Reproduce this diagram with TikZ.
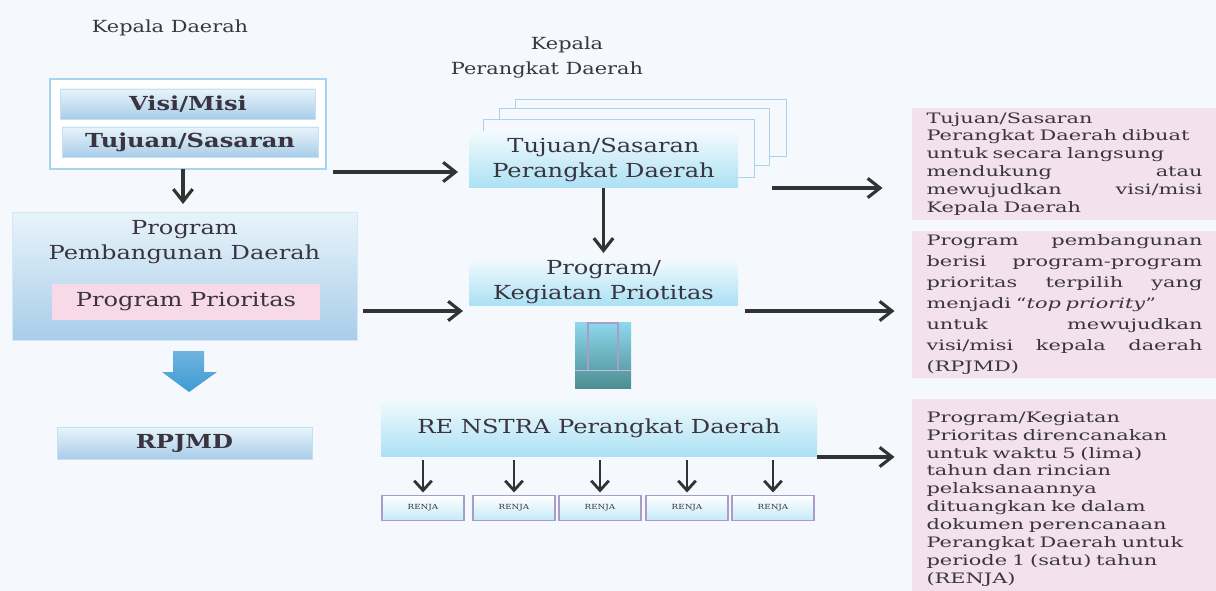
\documentclass[tikz,border=0pt]{standalone}
\usepackage{fontspec}
\setmainfont{DejaVu Serif}[FakeStretch=1.25]
\newfontfamily\notefont{DejaVu Serif}[FakeStretch=1.45]
\usetikzlibrary{arrows.meta}
\newdimen\pxu \pxu=0.02cm
\definecolor{bgcol}{HTML}{F5F9FD}
\definecolor{inkcol}{HTML}{3A3440}
\definecolor{arrcol}{HTML}{333333}
\definecolor{framecol}{HTML}{A8D4EE}
\definecolor{barT}{HTML}{E8F4FB}
\definecolor{barB}{HTML}{A9CDE9}
\definecolor{cyanT}{HTML}{F2FAFD}
\definecolor{cyanB}{HTML}{ABE1F4}
\definecolor{pinkcol}{HTML}{F3E1EE}
\definecolor{pinkbarcol}{HTML}{F7D9E7}
\definecolor{bluearr}{HTML}{3F9AD3}
\definecolor{pillarT}{HTML}{8ED8EE}
\definecolor{pillarB}{HTML}{4C8E90}
\definecolor{lilac}{HTML}{A89CCB}

\begin{document}
\begin{tikzpicture}[x=0.02cm,y=-0.02cm,inner sep=0pt,outer sep=0pt,text=inkcol,
hdr/.style={font=\fontsize{9.5}{11}\selectfont},
lbl/.style={font=\fontsize{11}{14}\selectfont},
bluebar/.style={rectangle,top color=barT,bottom color=barB,draw=framecol!70,line width=0.3pt,font=\fontsize{11}{14}\selectfont},
cyanbox/.style={rectangle,top color=cyanT,bottom color=cyanB,font=\fontsize{11}{14}\selectfont,align=center},
pinkbar/.style={rectangle,fill=pinkbarcol,font=\fontsize{11}{14}\selectfont},
notebox/.style={rectangle,fill=pinkcol,inner xsep=15\pxu,text width=276\pxu,align=left,font=\notefont\fontsize{8.2}{10.2}\selectfont},
renjabox/.style={rectangle,top color=white,bottom color=cyanB!70,draw=lilac,line width=0.6pt,minimum width=82\pxu,minimum height=25\pxu,font=\fontsize{4}{5}\selectfont},
stackline/.style={draw=framecol,fill=bgcol,line width=0.5pt},
arr/.style={draw=arrcol,line width=1.8pt,-{Straight Barb[length=7pt,width=11pt,line width=1.8pt]}},
smallarr/.style={draw=arrcol,line width=1.6pt,-{Straight Barb[length=5.5pt,width=10pt,line width=1.6pt]}}]
\useasboundingbox (0,0) rectangle (1216,591);
\fill[bgcol] (0,0) rectangle (1216,591);

% left column: Kepala Daerah
\draw (170,28) node[hdr] (kdh) {Kepala Daerah};
\draw (188,124) node[draw=framecol,fill=white,line width=0.8pt,minimum width=276\pxu,minimum height=90\pxu] (frame) {};
\draw (188,104) node[bluebar,minimum width=255\pxu,minimum height=30\pxu] (visi) {\bfseries Visi/Misi};
\draw (190,142) node[bluebar,minimum width=256\pxu,minimum height=30\pxu] (tujuan) {\bfseries Tujuan/Sasaran};
\draw (184.5,276) node[bluebar,draw=framecol!50,minimum width=345\pxu,minimum height=128\pxu] (pbd) {};
\draw (184.5,242) node[lbl,align=center] (pbdtxt) {Program\\Pembangunan Daerah};
\draw (186,302) node[pinkbar,minimum width=268\pxu,minimum height=36\pxu] (prio) {Program Prioritas};
\draw (184.5,443) node[bluebar,minimum width=255\pxu,minimum height=32\pxu] (rpjmd) {\bfseries RPJMD};
\draw[arr,shorten >=8\pxu] ([xshift=-5\pxu]frame.south) -- ([xshift=-5\pxu]frame.south |- pbd.north);
% block arrow down to RPJMD
\shade[top color=bluearr!75,bottom color=bluearr] (173,351) -- (204,351) -- (204,372) -- (217,372)
  -- (189,392) -- (162,372) -- (173,372) -- cycle;

% middle column: Kepala Perangkat Daerah
\draw (567,45) node[hdr] (kpd1) {Kepala};
\draw (547,70) node[hdr] (kpd2) {Perangkat Daerah};
\draw[stackline] (515,99) rectangle (786,156);
\draw[stackline] (499,108) rectangle (769,165);
\draw[stackline] (483,119) rectangle (754,177);
\draw (603.5,160) node[cyanbox,minimum width=269\pxu,minimum height=56\pxu] (tps) {Tujuan/Sasaran\\Perangkat Daerah};
\draw (603.5,282) node[cyanbox,minimum width=269\pxu,minimum height=46\pxu] (pk) {Program/\\Kegiatan Priotitas};
\draw[arr,shorten >=6\pxu] (tps.south) -- (pk.north);
\shade[top color=pillarT,bottom color=pillarB] (575,322) rectangle (631,388);
\draw[lilac,line width=0.6pt] (588,371) -- (588,323) -- (618,323) -- (618,371);
\draw[lilac!70,line width=0.4pt] (575,370) -- (631,370);
\draw (599,428) node[cyanbox,minimum width=436\pxu,minimum height=56\pxu] (renstra) {RE NSTRA Perangkat Daerah};
\foreach \xx [count=\i] in {423,514,600,687,773}
  \draw (\xx,508) node[renjabox] (renja\i) {RENJA};
\foreach \i in {1,...,5}
  \draw[smallarr,shorten <=4\pxu,shorten >=3\pxu] (renja\i.north |- renstra.south) -- (renja\i.north);

\coordinate (l1s) at (333,172);
\coordinate (l2s) at (363,311);
\draw[arr,shorten >=11\pxu] (l1s) -- (l1s -| tps.west);
\draw[arr,shorten >=6\pxu] (l2s) -- (l2s -| pk.west);

% right column: notes
\draw (1064.5,164) node[notebox,minimum height=112\pxu] (note1) {Tujuan/Sasaran\\
Perangkat Daerah dibuat\\
untuk secara langsung\\
mendukung \hfill atau\\
mewujudkan \hfill visi/misi\\
Kepala Daerah};
\draw (1064.5,304.5) node[notebox,minimum height=147\pxu,font=\notefont\fontsize{8.2}{12}\selectfont] (note2) {Program \hfill pembangunan\\
berisi \hfill program-program\\
prioritas \hfill terpilih \hfill yang\\
menjadi “\textit{top priority}”\\
untuk \hfill mewujudkan\\
visi/misi \hfill kepala \hfill daerah\\
(RPJMD)};
\draw (1064.5,499) node[notebox,minimum height=200\pxu] (note3) {Program/Kegiatan\\
Prioritas direncanakan\\
untuk waktu 5 (lima)\\
tahun dan rincian\\
pelaksanaannya\\
dituangkan ke dalam\\
dokumen perencanaan\\
Perangkat Daerah untuk\\
periode 1 (satu) tahun\\
(RENJA)};

\coordinate (r1s) at (772,188);
\coordinate (r2s) at (745,311);
\draw[arr,shorten >=29\pxu] (r1s) -- (r1s -| note1.west);
\draw[arr,shorten >=17\pxu] (r2s) -- (r2s -| note2.west);
\draw[arr,shorten >=17\pxu] ([yshift=-1\pxu]renstra.south east) -- ([yshift=-1\pxu]renstra.south east -| note3.west);
\end{tikzpicture}
\end{document}
